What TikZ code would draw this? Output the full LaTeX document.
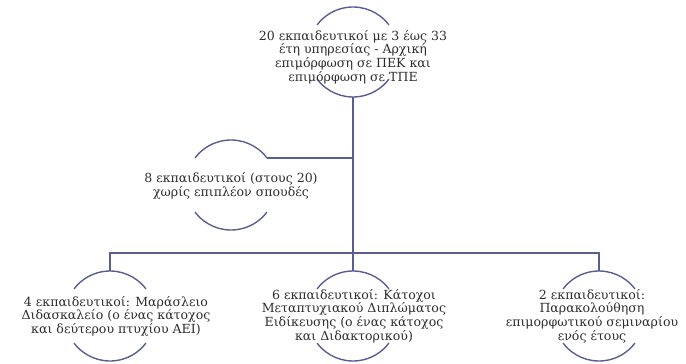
\documentclass[tikz,border=0pt]{standalone}
\usepackage{fontspec}
\setmainfont{DejaVu Serif}
\usepackage{tikz}
\usetikzlibrary{positioning,calc}
\definecolor{linkblue}{RGB}{89,94,145}
\definecolor{textgray}{RGB}{45,45,45}

\begin{document}
\begin{tikzpicture}[x=1bp, y=1bp,
    ring/.style={circle, minimum size=90bp, inner sep=0pt, outer sep=0pt},
    link/.style={draw=linkblue, line width=1.4pt},
    label/.style={align=center, text=textgray, font=\fontsize{12.6}{13.6}\selectfont, inner sep=0pt}]
\useasboundingbox (0,0) rectangle (686,363);
\node[ring] (top) at (353,311) {};
\node[ring] (side) at (231,178) {};
\node[ring] (left) at (110,47) {};
\node[ring] (mid) at (353,47) {};
\node[ring] (right) at (599,47) {};
\foreach \c in {top,side,left,mid,right} {
    \draw[link] (\c.37) arc[start angle=37, end angle=143, radius=45bp];
    \draw[link] (\c.217) arc[start angle=217, end angle=323, radius=45bp];
}
\coordinate (bus) at (353,110);
\draw[link] (top.south) -- (mid.north);
\draw[link] (side.37) -- (side.37 -| top.south);
\draw[link] (left.north) |- (bus) -| (right.north);
\node[label] (topt) at (353,306) {20 εκπαιδευτικοί με 3 έως 33\\έτη υπηρεσίας  - Αρχική\\επιμόρφωση σε ΠΕΚ και\\επιμόρφωση σε ΤΠΕ};
\node[label] (sidet) at (231,177) {8 εκπαιδευτικοί (στους 20)\\χωρίς επιπλέον σπουδές};
\node[label] (leftt) at (116,47) {4 εκπαιδευτικοί: Μαράσλειο\\Διδασκαλείο (ο ένας κάτοχος\\και δεύτερου πτυχίου ΑΕΙ)};
\node[label] (midt) at (354,47) {6 εκπαιδευτικοί: Κάτοχοι\\Μεταπτυχιακού Διπλώματος\\Ειδίκευσης (ο ένας κάτοχος\\και Διδακτορικού)};
\node[label] (rightt) at (592,47) {2 εκπαιδευτικοί:\\Παρακολούθηση\\επιμορφωτικού σεμιναρίου\\ενός έτους};
\end{tikzpicture}
\end{document}
